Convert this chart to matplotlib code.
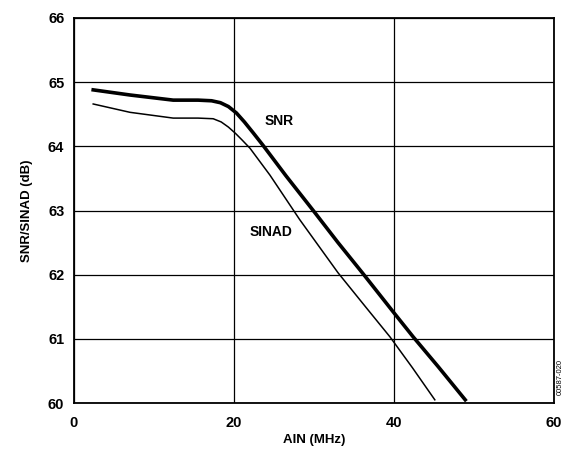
import matplotlib
matplotlib.use("Agg")
import matplotlib.pyplot as plt

plt.rcParams['font.family'] = ['Liberation Sans', 'DejaVu Sans']

# SNR and SINAD vs analog input frequency
snr_x = [2.4, 7.0, 12.4, 15.5, 17.2, 18.3, 19.3, 20.3, 21.3, 22.4, 23.6, 26.5, 29.9, 33.0, 36.1, 39.9, 42.4, 45.5, 48.9]
snr_y = [64.88, 64.80, 64.72, 64.72, 64.71, 64.68, 64.62, 64.52, 64.38, 64.21, 64.02, 63.54, 63.00, 62.50, 62.02, 61.42, 61.03, 60.57, 60.05]
sinad_x = [2.4, 7.0, 12.4, 15.5, 17.4, 18.4, 19.3, 20.2, 21.0, 22.0, 24.5, 28.2, 33.0, 36.5, 39.5, 42.3, 45.1]
sinad_y = [64.66, 64.53, 64.44, 64.44, 64.43, 64.38, 64.30, 64.20, 64.10, 63.97, 63.55, 62.86, 62.03, 61.49, 61.03, 60.55, 60.05]

xticks = [0, 20, 40, 60]
yticks = [60, 61, 62, 63, 64, 65, 66]

fig = plt.figure(figsize=(5.64, 4.51), dpi=100)
ax = fig.add_axes([0.1312, 0.1064, 0.8511, 0.8537])

ax.plot(snr_x, snr_y, color='black', linewidth=2.6, zorder=3)
ax.plot(sinad_x, sinad_y, color='black', linewidth=1.1, zorder=3)

ax.set_xlim(0, 60)
ax.set_ylim(60, 66)
ax.set_xticks(xticks)
ax.set_yticks(yticks)
ax.grid(True, color='black', linewidth=0.9)
for s in ax.spines.values():
    s.set_linewidth(1.3)
ax.tick_params(axis='x', length=0, labelsize=10.5, pad=9)
ax.tick_params(axis='y', length=0, labelsize=10.5, pad=7)
for lab in ax.get_xticklabels() + ax.get_yticklabels():
    lab.set_fontweight('bold')

ax.set_xlabel('AIN (MHz)', fontsize=9.5, fontweight='bold', labelpad=3)
ax.set_ylabel('SNR/SINAD (dB)', fontsize=9.5, fontweight='bold', labelpad=11)

ax.text(25.6, 64.4, 'SNR', fontsize=10, fontweight='bold', ha='center', va='center')
ax.text(24.6, 62.67, 'SINAD', fontsize=10, fontweight='bold', ha='center', va='center')

fig.text(0.994, 0.165, '00587-020', fontsize=5.5, rotation=90, ha='center', va='center')

fig.savefig('out.png', dpi=100)
